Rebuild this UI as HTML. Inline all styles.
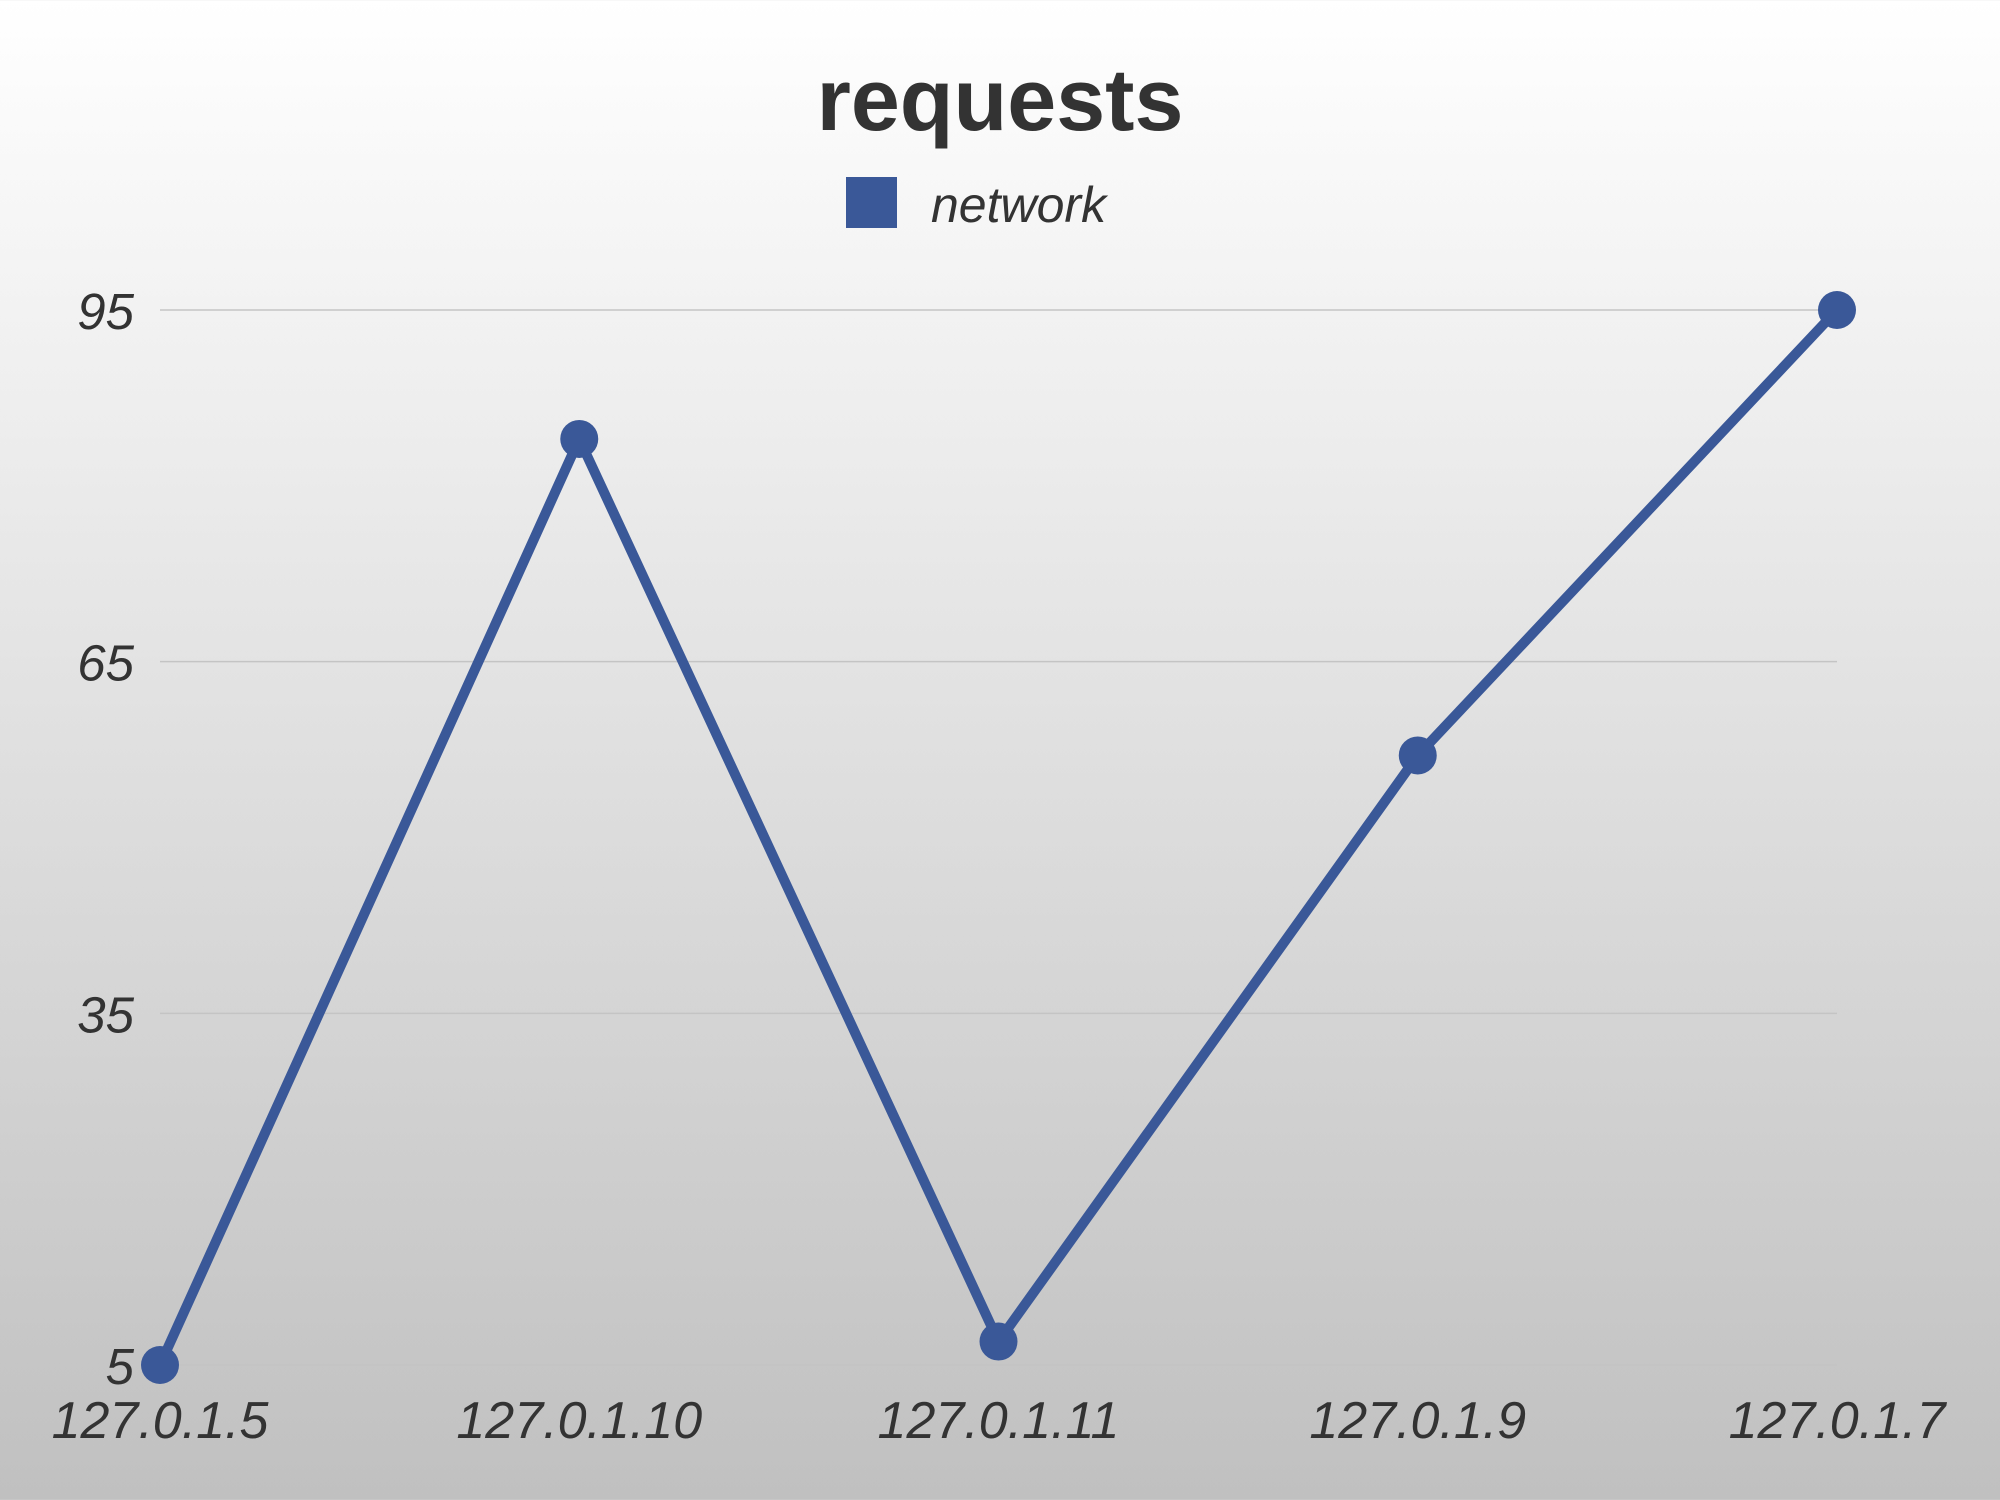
<!DOCTYPE html>
<html><head><meta charset="utf-8"><style>
html,body{margin:0;padding:0;width:2000px;height:1500px;overflow:hidden}
body{background:linear-gradient(#ffffff,#c0c0c0);font-family:"Liberation Sans",sans-serif}
</style></head><body>
<svg id="chart" width="2000" height="1500" xmlns="http://www.w3.org/2000/svg">
<text x="1000" y="130" text-anchor="middle" font-family="Liberation Sans, sans-serif" font-weight="bold" font-size="88" fill="#333">requests</text>
<g>
<rect x="846" y="177" width="51" height="51" fill="#3a5898"/>
<text x="931" y="222" font-style="italic" font-size="50" fill="#333">network</text>
</g>
<g id="grid"></g><g id="yticks"></g><g id="xticks"></g><g id="series"></g>
</svg>
<script>
const categories = ["127.0.1.5","127.0.1.10","127.0.1.11","127.0.1.9","127.0.1.7"];
const networkValues = [5, 84, 7, 57, 95];
const yTickValues = [5, 35, 65, 95];
const NS = "http://www.w3.org/2000/svg";
const x0 = 160, x1 = 1837, yTop = 310, yBot = 1365, vMin = 5, vMax = 95;
function xScale(i){ return x0 + (x1 - x0) * i / (categories.length - 1); }
function yScale(v){ return yBot - (v - vMin) / (vMax - vMin) * (yBot - yTop); }
function mk(tag, attrs){ const e = document.createElementNS(NS, tag); for (const k in attrs) e.setAttribute(k, attrs[k]); return e; }
const grid = document.getElementById('grid'), yt = document.getElementById('yticks'), xt = document.getElementById('xticks'), s = document.getElementById('series');
yTickValues.forEach(v => {
  const l = mk('line', {x1: x0, x2: x1, y1: yScale(v), y2: yScale(v), stroke: '#c4c4c4', 'stroke-width': 1.5});
  
  
  grid.appendChild(l);
  const t = mk('text', {x: 134, y: yScale(v) + 19, 'text-anchor': 'end', 'font-style': 'italic', 'font-size': 51, fill: '#333'});
  t.textContent = v;
  
  
  yt.appendChild(t);
});
categories.forEach((c, i) => {
  const t = mk('text', {x: xScale(i), y: 1438, 'text-anchor': 'middle', 'font-style': 'italic', 'font-size': 52, fill: '#333'});
  t.textContent = c;
  
  
  xt.appendChild(t);
});
const pts = networkValues.map((v, i) => xScale(i) + ',' + yScale(v)).join(' ');
const pl = mk('polyline', {points: pts, fill: 'none', stroke: '#3a5898', 'stroke-width': 10, 'stroke-linejoin': 'round'});


s.appendChild(pl);
networkValues.forEach((v, i) => {
  const c = mk('circle', {cx: xScale(i), cy: yScale(v), r: 19, fill: '#3a5898'});
  
  
  s.appendChild(c);
});
</script>
</body></html>
